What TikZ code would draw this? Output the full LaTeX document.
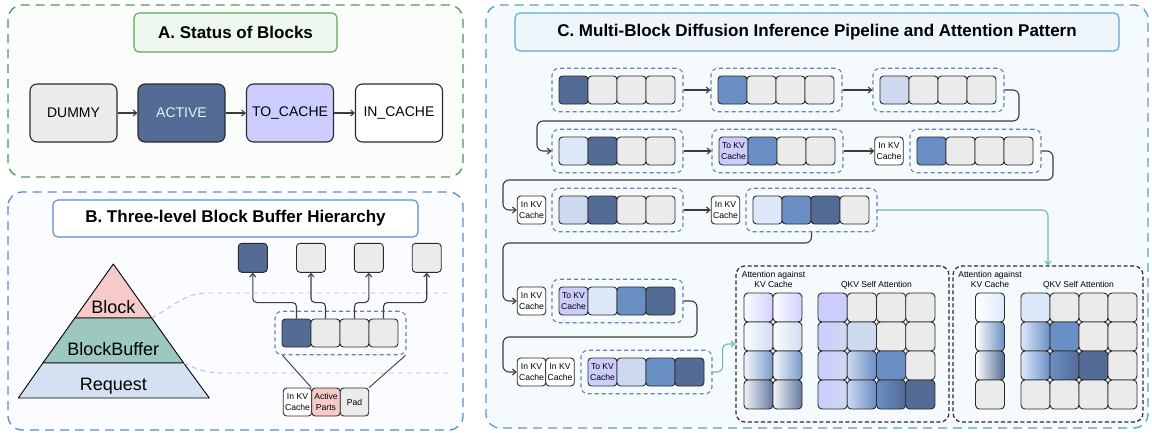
\documentclass[tikz,border=0pt]{standalone}
\usepackage{fontspec}
\setmainfont{Liberation Sans}
\usetikzlibrary{arrows.meta,calc}

% palette
\definecolor{cgray}{HTML}{EBEBEB}
\definecolor{cdark}{HTML}{536B95}
\definecolor{cmid}{HTML}{6A8FC4}
\definecolor{cpale}{HTML}{CDD9EF}
\definecolor{cvpale}{HTML}{DDE8FB}
\definecolor{clav}{HTML}{CCCCFF}
\definecolor{cpink}{HTML}{F5CAC9}
\definecolor{cteal}{HTML}{9CC8C0}
\definecolor{creq}{HTML}{D4E1F3}
\definecolor{edge}{HTML}{2B2B2B}
\definecolor{grpline}{HTML}{6A80AE}
\definecolor{connc}{HTML}{3C3C3C}
\definecolor{greenc}{HTML}{6CBBA3}
\definecolor{panAline}{HTML}{4E9A5A}
\definecolor{panAfill}{HTML}{FAFDFA}
\definecolor{titAfill}{HTML}{EEF8EF}
\definecolor{titAline}{HTML}{5AA65F}
\definecolor{panBline}{HTML}{5B8BD6}
\definecolor{panBfill}{HTML}{FAFCFF}
\definecolor{panCline}{HTML}{4AA3CF}
\definecolor{panCfill}{HTML}{F5FAFD}
\definecolor{titCfill}{HTML}{EEF6FC}
\definecolor{titCline}{HTML}{5AAAD6}
\definecolor{guidec}{HTML}{BDBDBD}
\definecolor{activetxt}{HTML}{EEF1F7}

% per-block colours of the two attention patterns
\colorlet{att1c1}{clav}
\colorlet{att1c2}{cpale}
\colorlet{att1c3}{cmid}
\colorlet{att1c4}{cdark}
\colorlet{att2c1}{cvpale}
\colorlet{att2c2}{cmid}
\colorlet{att2c3}{cdark}
\colorlet{att2c4}{cgray}

% a dashed block buffer with four cells: name, left x, centre y, colour/text list
\newcommand\blkgroup[4]{%
  \node[grpbox] (#1) at ({#2+65.5},#3) {};
  \foreach \c/\t [count=\n] in {#4}
    \node[cell, fill=\c] (#1-\n) at ({#2+21.5+29*(\n-1)},#3) {\t};
}

\begin{document}
\begin{tikzpicture}[x=1pt,y=-1pt,
  panel/.style={dash pattern=on 9pt off 6pt, line width=1.3pt, rounded corners=14pt},
  titlebox/.style={rounded corners=5pt, line width=1.1pt, inner sep=0pt,
    font=\fontsize{17}{20}\selectfont\bfseries},
  state/.style={draw=edge, line width=1.1pt, rounded corners=7pt, minimum width=87pt,
    minimum height=58pt, inner sep=0pt, font=\fontsize{14}{16}\selectfont},
  cell/.style={draw=edge, line width=0.9pt, rounded corners=3.5pt, minimum width=29pt,
    minimum height=28pt, inner sep=0pt, align=center, font=\fontsize{8.6}{10.4}\selectfont},
  kvbox/.style={cell, fill=white, minimum width=28.5pt},
  grpbox/.style={draw=grpline, dash pattern=on 4pt off 3pt, line width=1.1pt,
    rounded corners=7pt, minimum width=131pt, minimum height=43.5pt, inner sep=0pt},
  acell/.style={draw=edge, line width=0.9pt, rounded corners=4pt, minimum width=29pt,
    minimum height=29pt, inner sep=0pt},
  attbox/.style={draw=edge, dash pattern=on 4pt off 2.5pt, line width=1.2pt,
    rounded corners=9pt, inner sep=0pt},
  conn/.style={draw=connc, line width=1.1pt, rounded corners=6pt,
    -{Straight Barb[length=3.5pt,width=6pt]}},
  greenconn/.style={conn, draw=greenc},
  small/.style={font=\fontsize{8.5}{10}\selectfont, align=center, inner sep=0pt},
  pyrtext/.style={font=\fontsize{18}{20}\selectfont, anchor=base, inner sep=0pt},
  guide/.style={draw=guidec, dash pattern=on 5pt off 4pt, line width=0.9pt}
]
\useasboundingbox[fill=white] (0,0) rectangle (1152,432);

% ---------------- A. Status of Blocks ----------------
\draw[panel, draw=panAline, fill=panAfill] (8,5) rectangle (463,177);
\node[titlebox, draw=titAline, fill=titAfill, minimum width=203pt, minimum height=39pt]
  (titA) at (235.5,32.5) {A. Status of Blocks};
\node[state, fill=cgray] (dummy) at (73.5,113) {DUMMY};
\node[state, fill=cdark, text=activetxt] (active) at (181.5,113) {ACTIVE};
\node[state, fill=clav] (tocache) at (290,113) {TO\_CACHE};
\node[state, fill=white] (incache) at (399,113) {IN\_CACHE};
\draw[conn] (dummy) -- (active);
\draw[conn] (active) -- (tocache);
\draw[conn] (tocache) -- (incache);

% ---------------- B. Three-level Block Buffer Hierarchy ----------------
\draw[panel, draw=panBline, fill=panBfill] (8,192) rectangle (463,430);
\node[titlebox, draw=panBline, fill=white, minimum width=365pt, minimum height=37pt]
  (titB) at (235.5,218.5) {B. Three-level Block Buffer Hierarchy};

% pyramid
\coordinate (apex) at (113.3,264);
\coordinate (bl1) at (74.9,318);
\coordinate (br1) at (151.7,318);
\coordinate (bl2) at (42.9,363);
\coordinate (br2) at (183.7,363);
\coordinate (bl3) at (18.3,398);
\coordinate (br3) at (209.3,398);
\filldraw[fill=cpink, draw=black, line width=0.9pt, line join=round] (apex) -- (br1) -- (bl1) -- cycle;
\filldraw[fill=cteal, draw=black, line width=0.9pt, line join=round] (bl1) -- (br1) -- (br2) -- (bl2) -- cycle;
\filldraw[fill=creq, draw=black, line width=0.9pt, line join=round] (bl2) -- (br2) -- (br3) -- (bl3) -- cycle;
\node[pyrtext] (tBlock) at (113.3,313) {Block};
\node[pyrtext] (tBuffer) at (113.3,355) {BlockBuffer};
\node[pyrtext] (tRequest) at (113.3,390) {Request};

% zoom guides
\draw[guide] (br1) .. controls (175,305) and (186,293) .. (207,293) -- (450,293);
\draw[guide] (br2) .. controls (196,369) and (206,373) .. (222,373) -- (450,373);

% blocks and their buffer
\node[cell, minimum height=29pt, fill=cdark] (top1) at (252.8,257.8) {};
\node[cell, minimum height=29pt, fill=cgray] (top2) at (311,257.8) {};
\node[cell, minimum height=29pt, fill=cgray] (top3) at (368.8,257.8) {};
\node[cell, minimum height=29pt, fill=cgray] (top4) at (426.7,257.8) {};
\blkgroup{buf}{275}{333}{cdark/{},cgray/{},cgray/{},cgray/{}}
\foreach \n in {1,...,4}
  \draw[conn, rounded corners=4pt] (buf-\n.north) -- ++(0,-16) -| (top\n.south);

% parts of a buffer
\node[kvbox] (lkv) at (297.5,402) {In KV\\Cache};
\node[kvbox, fill=cpink] (lact) at (326,402) {Active\\Parts};
\node[kvbox, fill=cgray] (lpad) at (354.5,402) {Pad};
\draw[connc, line width=0.9pt] ([xshift=8pt]buf.south west) -- (lact.north west);
\draw[connc, line width=0.9pt] ([xshift=-1pt]buf.south east) -- (lpad.north east);

% ---------------- C. Multi-Block Diffusion Inference Pipeline ----------------
\draw[panel, draw=panCline, fill=panCfill] (486,5) rectangle (1148,428);
\node[titlebox, draw=titCline, fill=titCfill, minimum width=604pt, minimum height=38pt]
  (titC) at (817,32) {C. Multi-Block Diffusion Inference Pipeline and Attention Pattern};

% row 1
\blkgroup{g1}{552}{90}{cdark/{},cgray/{},cgray/{},cgray/{}}
\blkgroup{g2}{711}{90}{cmid/{},cgray/{},cgray/{},cgray/{}}
\blkgroup{g3}{873}{90}{cpale/{},cgray/{},cgray/{},cgray/{}}
% row 2
\blkgroup{g4}{552}{151}{cvpale/{},cdark/{},cgray/{},cgray/{}}
\blkgroup{g5}{712}{151}{clav/{To KV\\Cache},cmid/{},cgray/{},cgray/{}}
\node[kvbox] (kv2) at (889,151) {In KV\\Cache};
\blkgroup{g6}{910}{151}{cmid/{},cgray/{},cgray/{},cgray/{}}
% row 3
\node[kvbox] (kv3a) at (531.5,210) {In KV\\Cache};
\blkgroup{g7}{552}{210}{cpale/{},cdark/{},cgray/{},cgray/{}}
\node[kvbox] (kv3b) at (725.5,210) {In KV\\Cache};
\blkgroup{g8}{746}{210}{cvpale/{},cmid/{},cdark/{},cgray/{}}
% row 4
\node[kvbox] (kv4) at (531.5,301) {In KV\\Cache};
\blkgroup{g9}{552}{301}{clav/{To KV\\Cache},cvpale/{},cmid/{},cdark/{}}
% row 5
\node[kvbox] (kv5a) at (531.5,372) {In KV\\Cache};
\node[kvbox] (kv5b) at (560,372) {In KV\\Cache};
\blkgroup{g10}{581}{372}{clav/{To KV\\Cache},cpale/{},cmid/{},cdark/{}}

% attention patterns
\node[attbox, minimum width=213pt, minimum height=156pt] (att1) at (842.5,344) {};
\node[attbox, minimum width=190pt, minimum height=156pt] (att2) at (1048,344) {};
\node[small] (att1kvl) at (773.5,279.5) {Attention against\\KV Cache};
\node[small] (att1ql) at (876.5,285) {QKV Self Attention};
\node[small] (att2kvl) at (990,279.5) {Attention against\\KV Cache};
\node[small] (att2ql) at (1078.5,285) {QKV Self Attention};

\foreach \i in {1,...,4}{
  \foreach \j in {1,2}
    \node[acell, left color=att1c\i!8, right color=att1c\i!90] (a1k-\i-\j)
      at ({758.5+29*(\j-1)},{278.5+29*\i}) {};
  \foreach \j in {1,...,4}{
    \pgfmathtruncatemacro\k{\j+1}
    \ifnum\j>\i\relax
      \node[acell, minimum width=29.25pt, fill=cgray] (a1q-\i-\j)
        at ({832.6+29.25*(\j-1)},{278.5+29*\i}) {};
    \else\ifnum\j=\i\relax
      \node[acell, minimum width=29.25pt, fill=att1c\i] (a1q-\i-\j)
        at ({832.6+29.25*(\j-1)},{278.5+29*\i}) {};
    \else
      \node[acell, minimum width=29.25pt, left color=att1c\j, right color=att1c\k] (a1q-\i-\j)
        at ({832.6+29.25*(\j-1)},{278.5+29*\i}) {};
    \fi\fi
  }
}

\foreach \i in {1,...,4}{
  \ifnum\i=4\relax
    \node[acell, fill=cgray] (a2k-\i) at (990,{278.5+29*\i}) {};
  \else
    \node[acell, left color=white, right color=att2c\i] (a2k-\i) at (990,{278.5+29*\i}) {};
  \fi
  \foreach \j in {1,...,4}{
    \pgfmathtruncatemacro\k{\j+1}
    \ifnum\j>\i\relax
      \node[acell, fill=cgray] (a2q-\i-\j) at ({1035.5+29*(\j-1)},{278.5+29*\i}) {};
    \else\ifnum\i=4\relax
      \node[acell, fill=cgray] (a2q-\i-\j) at ({1035.5+29*(\j-1)},{278.5+29*\i}) {};
    \else\ifnum\j=\i\relax
      \node[acell, fill=att2c\i] (a2q-\i-\j) at ({1035.5+29*(\j-1)},{278.5+29*\i}) {};
    \else
      \node[acell, left color=att2c\j, right color=att2c\k] (a2q-\i-\j)
        at ({1035.5+29*(\j-1)},{278.5+29*\i}) {};
    \fi\fi\fi
  }
}

% pipeline connectors
\draw[conn] (g1) -- (g2);
\draw[conn] (g2) -- (g3);
\draw[conn] (g3.east) -| (1019,121) -- (537,121) |- (g4.west);
\draw[conn] (g4) -- (g5);
\draw[conn] (g5) -- (kv2);
\draw[conn] (g6.east) -| (1053,180) -- (503,180) |- (kv3a.west);
\draw[conn] (g7) -- (kv3b);
\draw[conn] (g8.south) |- (503,243) |- (kv4.west);
\draw[conn] (g9.east) -| (697,337) -- (503,337) |- (kv5a.west);
\draw[greenconn] (g8.east) -| (att2.north);
\draw[greenconn, rounded corners=5pt] (g10.east) -- ++(10,0) |- (att1.west);
\end{tikzpicture}
\end{document}
